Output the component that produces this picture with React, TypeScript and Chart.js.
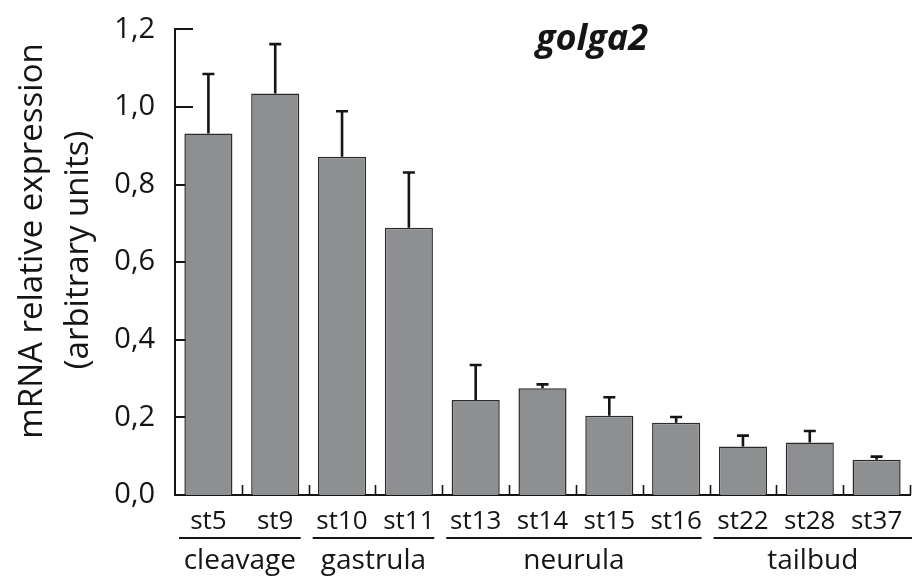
import { useEffect, useRef } from 'react';
import { Chart, registerables } from 'chart.js';

Chart.register(...registerables);

const categories = ['st5', 'st9', 'st10', 'st11', 'st13', 'st14', 'st15', 'st16', 'st22', 'st28', 'st37'];
const values = [0.932, 1.035, 0.872, 0.689, 0.245, 0.275, 0.204, 0.186, 0.125, 0.135, 0.091];
const errors = [0.153, 0.127, 0.117, 0.142, 0.09, 0.01, 0.048, 0.015, 0.028, 0.03, 0.008];
const yTicks = [0, 0.2, 0.4, 0.6, 0.8, 1.0, 1.2];
const groupLabels = ['cleavage', 'gastrula', 'neurula', 'tailbud'];
const groupStart = [0, 2, 4, 8];
const groupEnd = [1, 3, 7, 10];
const chartTitle = 'golga2';
const yTitle = ['mRNA relative expression', '(arbitrary units)'];

const INK = '#151515';
const FONT = '"Open Sans", sans-serif';

const decor = {
  id: 'decor',
  beforeDatasetsDraw(chart: any) {
    const { ctx, chartArea, scales } = chart;
    const x = scales.x;
    const y = scales.y;
    ctx.save();
    ctx.strokeStyle = INK;
    ctx.lineWidth = 2;
    yTicks.forEach((v) => {
      const py = Math.round(y.getPixelForValue(v));
      ctx.beginPath();
      ctx.moveTo(chartArea.left, py);
      ctx.lineTo(chartArea.left + 18, py);
      ctx.stroke();
    });
    ctx.lineWidth = 1.6;
    for (let i = 1; i <= categories.length; i++) {
      const px = Math.round(x.getPixelForValue(i - 0.5)) + 0.5;
      ctx.beginPath();
      ctx.moveTo(px, chartArea.bottom);
      ctx.lineTo(px, chartArea.bottom - 10);
      ctx.stroke();
    }
    ctx.restore();
  },
  afterDatasetsDraw(chart: any) {
    const { ctx, scales } = chart;
    const y = scales.y;
    const meta = chart.getDatasetMeta(0);
    ctx.save();
    ctx.strokeStyle = INK;
    ctx.lineWidth = 2.6;
    values.forEach((v, i) => {
      const bx = meta.data[i].x;
      const top = y.getPixelForValue(v);
      const cap = y.getPixelForValue(v + errors[i]);
      ctx.beginPath();
      ctx.moveTo(bx, top);
      ctx.lineTo(bx, cap);
      ctx.moveTo(bx - 6, cap);
      ctx.lineTo(bx + 6, cap);
      ctx.stroke();
    });
    ctx.restore();
  },
  afterDraw(chart: any) {
    const { ctx, scales } = chart;
    const x = scales.x;
    ctx.save();
    ctx.fillStyle = INK;
    ctx.strokeStyle = INK;
    // title
    ctx.font = `italic bold 36px ${FONT}`;
    ctx.textAlign = 'center';
    ctx.textBaseline = 'alphabetic';
    ctx.fillText(chartTitle, 592, 50);
    // y title
    ctx.font = `33px ${FONT}`;
    const ty = [[42, 241], [88, 250]];
    yTitle.forEach((t, i) => {
      ctx.save();
      ctx.translate(ty[i][0], ty[i][1]);
      ctx.rotate(-Math.PI / 2);
      ctx.fillText(t, 0, 0);
      ctx.restore();
    });
    // group lines and labels
    ctx.font = `28px ${FONT}`;
    ctx.lineWidth = 2;
    const last = categories.length - 1;
    groupLabels.forEach((g, i) => {
      const x0 = x.getPixelForValue(groupStart[i] - 0.5) + 4;
      const x1 = x.getPixelForValue(groupEnd[i] + 0.5) + (groupEnd[i] === last ? 2 : -8);
      ctx.beginPath();
      ctx.moveTo(x0, 538);
      ctx.lineTo(x1, 538);
      ctx.stroke();
      ctx.fillText(g, (x0 + x1) / 2, 569);
    });
    ctx.restore();
  },
};

export default function App() {
  const ref = useRef<HTMLCanvasElement>(null);
  useEffect(() => {
    document.body.style.margin = '0';
    Chart.defaults.font.family = FONT;
    Chart.defaults.color = INK;
    const chart = new Chart(ref.current as HTMLCanvasElement, {
      type: 'bar',
      data: {
        labels: categories,
        datasets: [
          {
            data: values,
            backgroundColor: '#8e8f91',
            borderColor: '#2b2b2b',
            borderWidth: 1.5,
            barPercentage: 0.72,
            categoryPercentage: 1,
          },
        ],
      },
      options: {
        animation: false,
        responsive: false,
        devicePixelRatio: 1,
        layout: { padding: { top: 23, right: 5, left: 0, bottom: 0 } },
        plugins: { legend: { display: false }, tooltip: { enabled: false }, title: { display: false } },
        scales: {
          x: {
            grid: { display: false },
            border: { display: true, color: INK, width: 2 },
            ticks: { font: { size: 26, family: FONT }, color: INK, padding: 3, maxRotation: 0, autoSkip: false },
            afterFit: (s: any) => {
              s.height = 86;
            },
          },
          y: {
            min: 0,
            max: 1.2,
            grid: { display: false },
            border: { display: true, color: INK, width: 2 },
            ticks: {
              font: { size: 29, family: FONT },
              color: INK,
              padding: 12,
              callback: (v: any) => Number(v).toFixed(1).replace('.', ','),
            },
            afterBuildTicks: (s: any) => {
              s.ticks = yTicks.map((v) => ({ value: v }));
            },
            afterFit: (s: any) => {
              s.width = 175;
            },
          },
        },
      },
      plugins: [decor],
    });
    return () => chart.destroy();
  }, []);
  return <canvas ref={ref} width={915} height={581} style={{ display: 'block' }} />;
}
